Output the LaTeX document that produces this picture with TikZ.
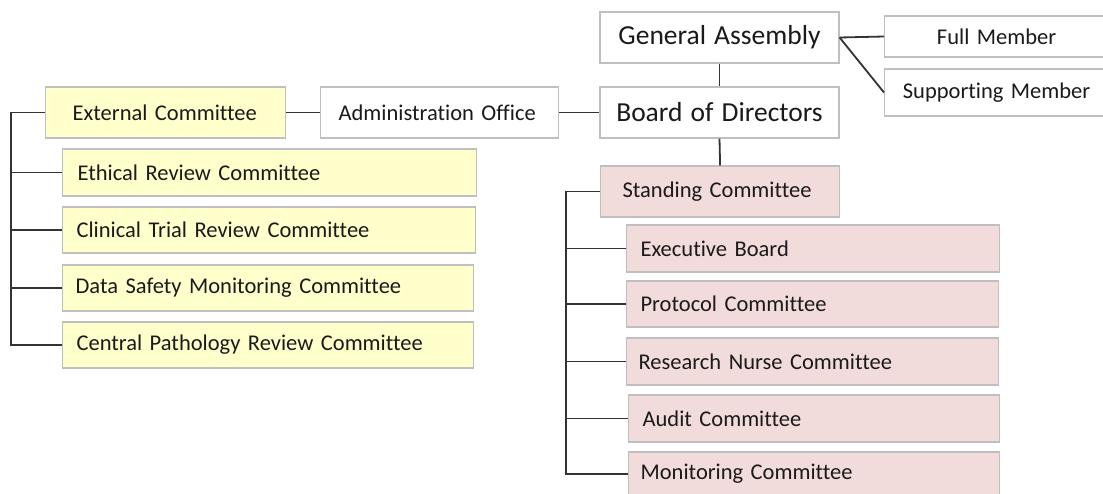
\documentclass[tikz,border=0pt]{standalone}
\usepackage{fontspec}
\setmainfont{Carlito}[Ligatures={NoCommon}, WordSpace=1.3]
\definecolor{yellowc}{HTML}{FFFFCC}
\definecolor{pinkc}{HTML}{F2DCDB}
\definecolor{boxgray}{HTML}{BFBFBF}
\definecolor{linec}{HTML}{333333}
\definecolor{textc}{HTML}{1A1A1A}
\tikzset{
  box/.style={draw=boxgray, line width=1.2pt, inner ysep=0pt, text=textc,
    font=\fontsize{22.5}{27}\selectfont, align=left, anchor=west},
  ybox/.style={box, fill=yellowc},
  pbox/.style={box, fill=pinkc},
  wbox/.style={box, fill=white},
  bigbox/.style={draw=boxgray, line width=1.2pt, fill=white, text=textc,
    font=\fontsize{27.5}{31}\selectfont, inner sep=0pt},
  conn/.style={draw=linec, line width=1.8pt},
}
\begin{document}
\begin{tikzpicture}[x=1pt,y=-1pt]
\useasboundingbox (0,0) rectangle (1103,493);
\clip (0,0) rectangle (1103,493);
\fill[white] (0,0) rectangle (1103,493);
% top nodes
\node[bigbox, minimum width=239pt, minimum height=51pt] (ga) at (719.5,37.5) {General Assembly};
\node[bigbox, minimum width=239pt, minimum height=51pt] (bod) at (719.5,112.5) {Board of Directors};
\node[wbox, align=center, text width=224pt, inner xsep=0pt, minimum height=41pt] (fm) at (884,36.5) {Full Member};
\node[wbox, align=center, text width=224pt, inner xsep=0pt, minimum height=47pt] (sm) at (884,92.5) {Supporting Member};
% left side
\node[ybox, text width=186pt, inner xsep=27pt, minimum height=51pt] (ec) at (45,112.5) {External Committee};
\node[wbox, text width=202pt, inner xsep=18pt, minimum height=51pt] (ao) at (320,112.5) {Administration Office};
\node[ybox, text width=384pt, inner xsep=15pt, minimum height=47pt] (er) at (62,172.5) {Ethical Review Committee};
\node[ybox, text width=385pt, inner xsep=14pt, minimum height=46pt] (ct) at (62,230) {Clinical Trial Review Committee};
\node[ybox, text width=385pt, inner xsep=13pt, minimum height=46pt] (ds) at (62,288) {Data Safety Monitoring Committee};
\node[ybox, text width=383pt, inner xsep=14pt, minimum height=46pt] (cp) at (62,345) {Central Pathology Review Committee};
% right side
\node[pbox, text width=195pt, inner xsep=22pt, minimum height=51pt] (sc) at (600,191.5) {Standing Committee};
\node[pbox, text width=345pt, inner xsep=14pt, minimum height=47pt] (eb) at (626,248.5) {Executive Board};
\node[pbox, text width=344pt, inner xsep=14pt, minimum height=46pt] (pc) at (626,304) {Protocol Committee};
\node[pbox, text width=348pt, inner xsep=12pt, minimum height=47pt] (rn) at (626,361.5) {Research Nurse Committee};
\node[pbox, text width=343pt, inner xsep=14pt, minimum height=47pt] (ac) at (628,418.5) {Audit Committee};
\node[pbox, text width=347pt, inner xsep=12pt, minimum height=44pt] (mc) at (628,474) {Monitoring Committee};
% bracket corners
\coordinate (lb) at (11,112.5);
\coordinate (rb) at (566,191.5);
% connectors
\draw[conn] (ga.east) -- (fm.west);
\draw[conn] (ga.east) -- (sm.west);
\draw[conn] (ga.south) -- (bod.north);
\draw[conn] (bod.south) -- (sc.north);
\draw[conn] (ec.east) -- (ao.west);
\draw[conn] (ao.east) -- (bod.west);
\draw[conn] (ec.west) -- (lb) |- (cp.west);
\foreach \n in {er,ct,ds} \draw[conn] (\n.west) -- (\n.west -| lb);
\draw[conn] (sc.west) -- (rb) |- (mc.west);
\foreach \n in {eb,pc,rn,ac} \draw[conn] (\n.west) -- (\n.west -| rb);
\end{tikzpicture}
\end{document}
